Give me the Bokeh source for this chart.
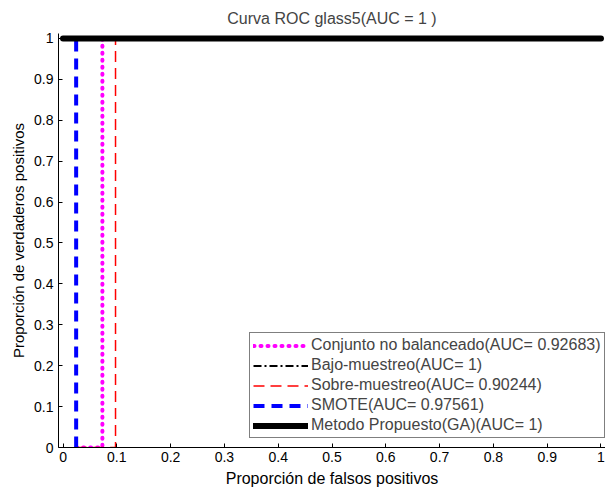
from bokeh.plotting import figure
from bokeh.models import Range1d, FixedTicker, Legend, LegendItem
from bokeh.embed import file_html
from bokeh.resources import INLINE

# ROC curve data (FPR, TPR)
fpr_nb = [0.0244, 0.0732, 0.0732, 1.0]
tpr_nb = [0.0, 0.0, 1.0, 1.0]
fpr_bajo = [0.0, 1.0]
tpr_bajo = [1.0, 1.0]
fpr_sobre = [0.0244, 0.0976, 0.0976, 1.0]
tpr_sobre = [0.0, 0.0, 1.0, 1.0]
fpr_smote = [0.0244, 0.0244, 1.0]
tpr_smote = [0.0, 1.0, 1.0]
fpr_ga = [0.0, 1.0]
tpr_ga = [1.0, 1.0]

labels = [
    "Conjunto no balanceado(AUC= 0.92683)",
    "Bajo-muestreo(AUC= 1)",
    "Sobre-muestreo(AUC= 0.90244)",
    "SMOTE(AUC= 0.97561)",
    "Metodo Propuesto(GA)(AUC= 1)",
]
ticks = [0, 0.1, 0.2, 0.3, 0.4, 0.5, 0.6, 0.7, 0.8, 0.9, 1]
tick_labels = {0: "0", 0.1: "0.1", 0.2: "0.2", 0.3: "0.3", 0.4: "0.4", 0.5: "0.5",
               0.6: "0.6", 0.7: "0.7", 0.8: "0.8", 0.9: "0.9", 1: "1"}

FONT = "Liberation Sans"

p = figure(width=605, height=491, output_backend="svg", toolbar_location=None,
           x_range=Range1d(-0.0084, 1.0084), y_range=Range1d(0, 1.012),
           min_border_left=58, min_border_right=0, min_border_top=33, min_border_bottom=44,
           title="Curva ROC glass5(AUC = 1 )")
p.title.align = "center"
p.title.text_font = FONT
p.title.text_font_size = "16px"
p.title.text_font_style = "normal"
p.title.standoff = 13
p.outline_line_color = None
p.xgrid.grid_line_color = None
p.ygrid.grid_line_color = None
p.background_fill_color = "white"
p.border_fill_color = "white"

for ax in (p.xaxis[0], p.yaxis[0]):
    ax.ticker = FixedTicker(ticks=ticks)
    ax.major_label_overrides = tick_labels
    ax.major_tick_in = 4
    ax.major_tick_out = 0
    ax.minor_tick_in = 0
    ax.minor_tick_out = 0
    ax.major_tick_line_color = "black"
    ax.axis_line_color = "black"
    ax.major_label_text_font = FONT
    ax.major_label_text_font_size = "14px"
    ax.major_label_text_color = "black"
    ax.axis_label_text_font = FONT
    ax.axis_label_text_font_style = "normal"
    ax.axis_label_text_color = "black"

p.xaxis.axis_label = "Proporción de falsos positivos"
p.yaxis.axis_label = "Proporción de verdaderos positivos"
p.xaxis.axis_label_text_font_size = "16px"
p.yaxis.axis_label_text_font_size = "15px"
p.xaxis.major_label_standoff = 4
p.xaxis.axis_label_standoff = 5
p.yaxis.major_label_standoff = 5
p.yaxis.axis_label_standoff = 4

r_nb = p.line(fpr_nb, tpr_nb, line_color="#FF00FF", line_width=4, line_dash="1 6",
              line_cap="round")
r_bajo = p.line(fpr_bajo, tpr_bajo, line_color="black", line_width=2, line_dash="8 3 2 3")
r_sobre = p.line(fpr_sobre, tpr_sobre, line_color="red", line_width=1.5, line_dash="11 6")
r_smote = p.line(fpr_smote, tpr_smote, line_color="#0000FF", line_width=4, line_dash="11 7")
r_ga = p.line(fpr_ga, tpr_ga, line_color="black", line_width=6, line_cap="round")

legend = Legend(items=[LegendItem(label=l, renderers=[r]) for l, r in
                       zip(labels, [r_nb, r_bajo, r_sobre, r_smote, r_ga])],
                location=(191, 9), margin=0, padding=3, spacing=2,
                glyph_width=55, glyph_height=17, label_height=17, label_standoff=3,
                label_text_font=FONT, label_text_font_size="16px",
                border_line_color="black", border_line_width=1,
                background_fill_alpha=1.0)
p.add_layout(legend)

open("out.html", "w").write(file_html(p, INLINE))
